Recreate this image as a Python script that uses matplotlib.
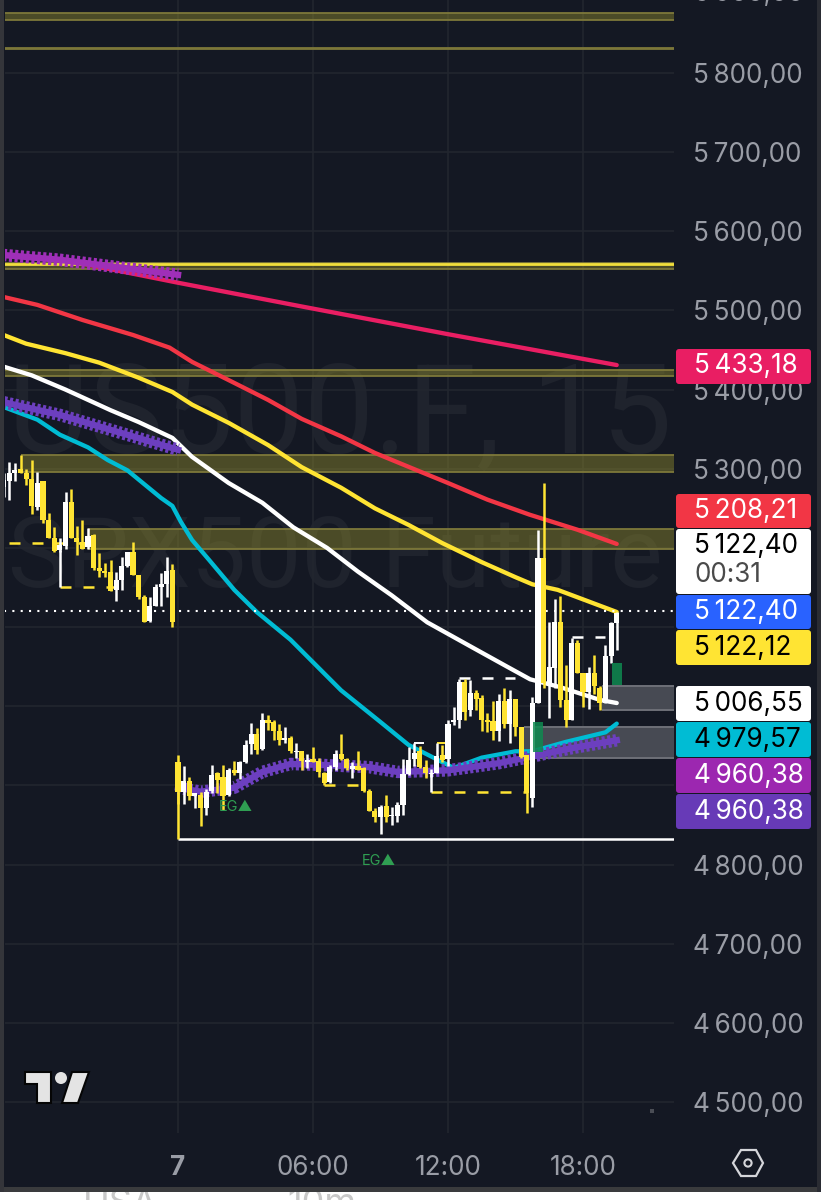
import matplotlib
matplotlib.use("Agg")
import matplotlib.pyplot as plt
from matplotlib.patches import Rectangle, FancyBboxPatch, Polygon, Circle

plt.rcParams['font.family'] = ['Inter', 'DejaVu Sans']

BG = '#141823'
GRID = '#22262f'
TICK = '#9a9da6'
YELLOW = '#ffe433'
TICK_SIZE = 18.8

# candles, first bar is index -31, index 0 is the "7" tick, 15 min each
first_bar = -31
opens = [5277, 5284, 5295, 5300, 5294, 5287, 5252, 5284, 5235, 5212, 5197, 5202, 5258, 5213, 5208, 5201,
         5216, 5174, 5171, 5170, 5147, 5160, 5177, 5195, 5166, 5138, 5108, 5126, 5151, 5154, 5172,
         4929, 4892, 4906, 4886, 4888, 4872, 4893, 4915, 4910, 4888, 4920, 4916, 4930, 4952, 4965, 4946,
         4983, 4980, 4969, 4957, 4960, 4942, 4943, 4930, 4933, 4931, 4916, 4904, 4923, 4940, 4933, 4921,
         4924, 4922, 4893, 4868, 4860, 4874, 4861, 4861, 4875, 4914, 4933, 4943, 4923, 4914, 4916, 4938,
         4933, 4980, 4982, 5030, 4995, 5017, 5010, 4983, 4981, 4969, 5007, 4978, 5009, 4974, 4938, 4884,
         5004, 5187, 5029, 5048, 5107, 5008, 4983, 5080, 5042, 5018, 5042, 5023, 5004, 5063, 5105]
closes = [5286, 5295, 5299, 5294, 5287, 5253, 5282, 5235, 5213, 5196, 5204, 5258, 5213, 5208, 5199, 5215,
          5174, 5171, 5168, 5146, 5160, 5177, 5195, 5166, 5138, 5107, 5126, 5150, 5155, 5171, 5106,
          4891, 4906, 4887, 4890, 4872, 4892, 4913, 4907, 4887, 4919, 4916, 4930, 4951, 4965, 4945, 4983,
          4979, 4969, 4957, 4960, 4943, 4943, 4931, 4932, 4930, 4917, 4903, 4923, 4940, 4933, 4922, 4924,
          4920, 4893, 4868, 4860, 4873, 4860, 4863, 4875, 4914, 4932, 4941, 4923, 4916, 4916, 4937, 4932,
          4978, 4983, 5031, 4993, 5017, 5009, 4983, 4980, 4969, 5007, 4978, 5009, 4974, 4936, 4890, 5004,
          5187, 5029, 5049, 5106, 5008, 4983, 5080, 5042, 5018, 5042, 5025, 5004, 5063, 5105, 5118]
highs = [5294, 5308, 5307, 5317, 5300, 5311, 5296, 5284, 5244, 5226, 5213, 5270, 5275, 5228, 5235, 5225,
         5218, 5193, 5181, 5185, 5170, 5189, 5195, 5207, 5166, 5141, 5138, 5154, 5168, 5188, 5180,
         4938, 4924, 4910, 4890, 4892, 4895, 4926, 4917, 4926, 4922, 4931, 4931, 4957, 4979, 4972, 4991,
         4989, 4983, 4978, 4974, 4962, 4953, 4943, 4940, 4948, 4934, 4917, 4926, 4945, 4965, 4934, 4930,
         4944, 4923, 4896, 4871, 4875, 4888, 4873, 4879, 4933, 4948, 4953, 4950, 4932, 4921, 4953, 4951,
         4983, 4999, 5035, 5034, 5033, 5020, 5014, 4991, 5006, 5016, 5023, 5021, 5009, 4974, 4938, 5011,
         5223, 5282, 5107, 5136, 5139, 5052, 5086, 5084, 5042, 5050, 5065, 5025, 5077, 5107, 5119]
lows = [5264, 5260, 5284, 5294, 5279, 5243, 5248, 5231, 5213, 5195, 5195, 5199, 5212, 5191, 5198, 5199,
        5172, 5163, 5163, 5145, 5133, 5147, 5176, 5166, 5136, 5107, 5107, 5126, 5126, 5138, 5100,
        4877, 4877, 4881, 4871, 4849, 4863, 4890, 4890, 4869, 4887, 4913, 4908, 4928, 4940, 4940, 4945,
        4970, 4957, 4951, 4954, 4941, 4934, 4919, 4922, 4929, 4910, 4900, 4903, 4919, 4932, 4919, 4909,
        4919, 4892, 4867, 4854, 4839, 4854, 4850, 4854, 4863, 4913, 4924, 4922, 4909, 4911, 4915, 4930,
        4924, 4976, 4972, 4983, 4987, 4995, 4969, 4968, 4957, 4956, 4972, 4953, 4962, 4934, 4865, 4873,
        5004, 5023, 4985, 5023, 4999, 4974, 4983, 5042, 4999, 4997, 5016, 4995, 5004, 5054, 5071]

# moving averages
pink_x = [-31, -19, 0, 22, 48, 78]
pink_y = [5570, 5562, 5535, 5505, 5470, 5431]
red_x = [-31, -25, -17, -8, -1.5, 2.5, 9, 16, 22, 29, 35, 42.5, 48, 55, 62.5, 71, 78]
red_y = [5517, 5507, 5488, 5469, 5453, 5435, 5412, 5387, 5363, 5341, 5320, 5298, 5282, 5261, 5242, 5223, 5205]
yellow_x = [-31, -27, -20, -14, -7, -1, 2.5, 9, 16, 22, 29, 35, 41, 47, 54, 60, 63, 67.5, 78]
yellow_y = [5469, 5458, 5446, 5434, 5415, 5397, 5381, 5358, 5330, 5302, 5276, 5250, 5229, 5206, 5182, 5163,
            5154, 5147, 5119]
white_x = [-31, -26, -20, -12, -7, -1, 2.5, 9, 15, 20.5, 26.5, 32, 38, 44.3, 52.4, 58.5, 62.6, 68, 75, 78]
white_y = [5429, 5418, 5400, 5374, 5359, 5339, 5315, 5282, 5257, 5226, 5200, 5170, 5140, 5106, 5074, 5050,
           5034, 5024, 5008, 5004]
teal_x = [-31, -25, -21, -16, -12.5, -9, -3, -1, 0.5, 2.5, 5.5, 10, 14, 20, 29, 36, 41, 49, 54, 60, 63, 69, 76, 78]
teal_y = [5378, 5362, 5343, 5327, 5311, 5298, 5263, 5253, 5233, 5210, 5185, 5147, 5119, 5084, 5020, 4980, 4951,
          4922, 4935, 4943, 4943, 4955, 4967, 4978]
purple_top_x = [-31, -21, -10, 0]
purple_top_y = [5570, 5564, 5554, 5545]
purple_mid_x = [-31, -21, -10, 0]
purple_mid_y = [5384, 5368, 5345, 5324]
purple_low_x = [0, 4, 10, 15, 20, 25, 34, 39, 48, 57, 64, 70, 78]
purple_low_y = [4897, 4892, 4897, 4917, 4927, 4926, 4923, 4917, 4919, 4928, 4938, 4947, 4957]

# yellow zones: top price, bottom price, first bar
zone_tops = [5876, 5832, 5560, 5425, 5317, 5224]
zone_bottoms = [5867, 5830, 5552, 5417, 5296, 5199]
zone_starts = [-31, -31, -31, -31, -28, -16]

y_ticks = [4500, 4600, 4700, 4800, 4900, 5000, 5100, 5200, 5300, 5400, 5500, 5600, 5700, 5800]
hidden_ticks = [4900, 5000, 5100, 5200]
x_ticks = [0, 24, 48, 72]
x_labels = ['7', '06:00', '12:00', '18:00']

price_labels = ['5\u2009433,18', '5\u2009208,21', '5\u2009122,40', '5\u2009122,40', '5\u2009122,12',
                '5\u2009006,55', '4\u2009979,57', '4\u2009960,38', '4\u2009960,38']
label_colors = ['#e91e63', '#f23645', 'white', '#2962ff', YELLOW, 'white', '#00bcd4', '#9c27b0', '#673ab7']
label_text = ['white', 'white', 'black', 'white', 'black', 'black', 'black', 'white', 'white']
label_tops = [349, 494, 529, 595, 630, 686, 722, 758, 794]
label_bottoms = [384, 528, 594, 629, 665, 721, 757, 793, 829]


def fmt(v):
    s = f'{v:,.2f}'.replace(',', '\u2009').replace('.', ',')
    return s


fig = plt.figure(figsize=(8.21, 12), dpi=100, facecolor=BG)
ax = fig.add_axes([5 / 821, 67 / 1200, 669 / 821, 1133 / 1200], facecolor=BG)
ax.set_xlim(-30.76, 88.18)
ax.set_ylim(4460.8, 5892.2)

ax.set_xticks(x_ticks)
ax.set_xticklabels(x_labels)
ax.set_yticks(y_ticks)
ax.set_yticklabels(['' if v in hidden_ticks else fmt(v) for v in y_ticks])
ax.yaxis.tick_right()
ax.tick_params(axis='both', length=0, colors=TICK, labelsize=TICK_SIZE)
ax.tick_params(axis='y', pad=14)
ax.tick_params(axis='x', pad=16)
ax.get_xticklabels()[0].set_fontweight('bold')
ax.grid(True, color=GRID, lw=1.2)
ax.set_axisbelow(True)
for s in ax.spines.values():
    s.set_visible(False)

# watermark
ax.text(-30.3, 5320, 'US500.F, 15', fontsize=90, color='#1f232d', va='baseline', ha='left', zorder=0.5,
        family='Roboto', clip_on=True)
ax.text(-30.3, 5151, 'SPX500 Future', fontsize=71, color='#1f232d', va='baseline', ha='left', zorder=0.5,
        family='Roboto', clip_on=True)

# zones
for top, bottom, start in zip(zone_tops, zone_bottoms, zone_starts):
    ax.fill_between([start, 88.18], bottom, top, color='#8f8a2c', alpha=0.45, lw=0, zorder=1)
    ax.hlines([top, bottom], start, 88.18, color='#7d783a', lw=1.3, zorder=1)
ax.hlines(5559, -31, 88.18, color='#f2df3c', lw=2, zorder=1.2)

# gray boxes
ax.fill_between([75.4, 88.18], 4995, 5026, color='#474a53', lw=0, zorder=1)
ax.hlines([4995, 5026], 75.4, 88.18, color='#6e7078', lw=1.4, zorder=1)
ax.fill_between([61.5, 88.18], 4935, 4974, color='#474a53', lw=0, zorder=1)
ax.hlines([4935, 4974], 61.5, 88.18, color='#6e7078', lw=1.4, zorder=1)

# moving averages
ax.plot(pink_x, pink_y, color='#e91e63', lw=3.1, zorder=2, solid_capstyle='round')
ax.plot(red_x, red_y, color='#f23645', lw=3.1, zorder=2, solid_capstyle='round')
ax.plot(yellow_x, yellow_y, color=YELLOW, lw=3.1, zorder=2, solid_capstyle='round')
ax.plot(white_x, white_y, color='white', lw=3.1, zorder=2, solid_capstyle='round')
ax.plot(teal_x, teal_y, color='#00bcd4', lw=3.1, zorder=2.1, solid_capstyle='round')
for px_x, px_y, col in [(purple_top_x, purple_top_y, '#9f2fb8'), (purple_mid_x, purple_mid_y, '#6c3fbf'),
                        (purple_low_x, purple_low_y, '#6c3fbf')]:
    ax.plot(px_x, px_y, color=col, lw=4.6, zorder=2.2)
    ax.plot(px_x, px_y, color=col, lw=9, ls=(0, (0.25, 0.2)), zorder=2.2)

# level lines
ax.hlines(5120, -31, 88.18, color='white', lw=1.5, linestyles=(0, (1, 3)), zorder=2.3)
ax.hlines(4832, 0, 88.18, color='white', lw=1.8, zorder=3)
ax.vlines(0, 4832, 4891, color=YELLOW, lw=1.8, zorder=3)

dash = (0, (4.4, 4.8))
for x0, x1, level, col in [(-30, -16, 5206, YELLOW), (-21, -11, 5151, YELLOW), (26, 32, 4900, YELLOW),
                           (45, 62, 4892, YELLOW), (50, 60, 5036, 'white'), (70, 76, 5087, 'white')]:
    ax.hlines(level, x0, x1, color=col, lw=1.8, linestyles=dash, zorder=3)
ax.vlines(-21, 5151, 5197, color='white', lw=1.8, zorder=3)
ax.vlines(45, 4892, 4916, color='white', lw=1.8, zorder=3)
ax.hlines(4953, 42, 43.7, color='white', lw=1.4, zorder=3)
ax.hlines(4953, 46, 47.7, color=YELLOW, lw=1.4, zorder=3)

# candles
xs = [first_bar + i for i in range(len(opens))]
cols = ['white' if c >= o else YELLOW for o, c in zip(opens, closes)]
ax.vlines(xs, lows, highs, colors=cols, lw=1.8, zorder=4)
ax.bar(xs, [abs(c - o) for o, c in zip(opens, closes)], bottom=[min(o, c) for o, c in zip(opens, closes)],
       width=0.92, color=cols, lw=0, zorder=4)

# green boxes
ax.fill_between([63.2, 64.9], 4942, 4980, color='#0f8a50', alpha=0.85, lw=0, zorder=4.5)
ax.fill_between([77.2, 78.9], 5027, 5055, color='#0f8a50', alpha=0.85, lw=0, zorder=4.5)

ax.text(10.3, 4873, 'EG\u25b2', color='#2f9e52', fontsize=10.5, ha='center', va='center', zorder=5)
ax.text(35.7, 4804, 'EG\u25b2', color='#2f9e52', fontsize=10.5, ha='center', va='center', zorder=5)

# screen overlay in pixels
ov = fig.add_axes([0, 0, 1, 1], facecolor='none')
ov.set_xlim(0, 821)
ov.set_ylim(1200, 0)
ov.axis('off')

ov.text(694, -6, fmt(5900), color=TICK, fontsize=TICK_SIZE, va='center', ha='left')

for lab, col, tcol, top, bottom in zip(price_labels, label_colors, label_text, label_tops, label_bottoms):
    ov.add_patch(FancyBboxPatch((677, top + 1), 133, bottom - top - 2, boxstyle='round,pad=1,rounding_size=3',
                                fc=col, ec='none'))
    yc = (top + bottom) / 2 if bottom - top < 40 else top + 17
    ov.text(694, yc, lab, color=tcol, fontsize=TICK_SIZE, va='center', ha='left')
ov.text(694, 575, '00:31', color='#4a4a4a', fontsize=TICK_SIZE, va='center', ha='left')

# logo
ov.add_patch(Polygon([(25, 1072), (51, 1072), (51, 1103), (37, 1103), (37, 1084), (25, 1084)], fc='#e4e4e4', ec='#050505', lw=1.5))
ov.add_patch(Circle((61, 1078), 6, fc='#e4e4e4', ec='none'))
ov.add_patch(Polygon([(72, 1072), (89, 1072), (78, 1103), (62, 1103)], fc='#e4e4e4', ec='#050505', lw=1.5))

# settings button and small dot
ov.add_patch(Polygon([(733, 1163), (741, 1150), (756, 1150), (763, 1163), (756, 1176), (741, 1176)], fc='none',
                     ec='#d5d6da', lw=1.6))
ov.add_patch(Circle((748, 1163), 3.6, fc='none', ec='#d5d6da', lw=1.5))
ov.add_patch(Rectangle((650, 1109), 4, 4, fc='#4a4d55', ec='none'))

# photo edges
ov.add_patch(Rectangle((0, 1192), 821, 8, fc='white', ec='none', zorder=0.5))
ov.text(120, 1205, 'USA', color='#c8c8c8', fontsize=26, ha='center', va='center')
ov.text(322, 1205, '10m', color='#c8c8c8', fontsize=26, ha='center', va='center')
ov.add_patch(Rectangle((0, 1187), 821, 5, fc='#3a3b3d', ec='none', zorder=4))
ov.add_patch(Rectangle((0, 0), 4, 1192, fc='#34353a', ec='none', zorder=4))
ov.add_patch(Rectangle((817, 0), 4, 1192, fc='#2a2c33', ec='none', zorder=4))

fig.savefig('out.png', dpi=100, facecolor=fig.get_facecolor())
